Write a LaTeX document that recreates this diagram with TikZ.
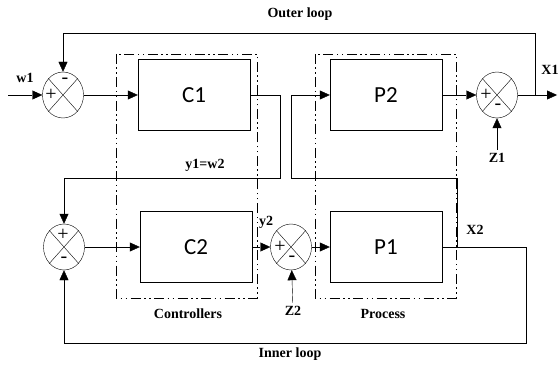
\documentclass[tikz,border=0pt]{standalone}
\usepackage{fontspec}
\setmainfont{Liberation Serif}
\newfontfamily\boxfont{Carlito}
\usetikzlibrary{arrows.meta,calc,shapes.geometric}
\tikzset{>={Triangle[length=10pt,width=9pt]},line width=1.6pt,
  every node/.style={font=\bfseries\fontsize{14}{15}\selectfont},
  block/.style={draw,minimum width=112pt,minimum height=71pt,
    font=\boxfont\fontsize{23}{24}\selectfont},
  sumnode/.style={draw,ellipse,minimum width=41pt,minimum height=46pt,inner sep=0pt,
    path picture={\draw (path picture bounding box.north west)--(path picture bounding box.south east)
      (path picture bounding box.north east)--(path picture bounding box.south west);}},
  group/.style={draw,line width=.9pt,dash pattern=on 10pt off 3.5pt on 1.5pt off 3.5pt on 1.5pt off 3.5pt},
  sign/.style={font=\fontsize{20}{20}\selectfont,inner sep=0pt}}

\begin{document}
\begin{tikzpicture}[x=1pt,y=-1pt]
\useasboundingbox (0,0) rectangle (559,366);
% groups
\draw[group] (116,54) rectangle (257,298);
\draw[group] (315,54) rectangle (456,298);
\node (ctrl) at (188,314) {Controllers};
\node (proc) at (383,314) {Process};
% upper row
\node[sumnode] (s1) at (63,95) {};
\node[block] (c1) at (194,95) {C1};
\node[block] (p2) at (386,95) {P2};
\node[sumnode] (s3) at (497,95) {};
% lower row
\node[sumnode] (s2) at (64,247) {};
\node[block] (c2) at (196,247) {C2};
\node[sumnode] (s4) at (291,247) {};
\node[block] (p1) at (386,247) {P1};
% signs
\node[sign] at ($(s1)+(-12,0)$) {+};\node[sign] at ($(s1)+(2,-14)$) {-};
\node[sign] at ($(s2)+(-1,-12)$) {+};\node[sign] at ($(s2)+(0,13)$) {-};
\node[sign] at ($(s3)+(-11,0)$) {+};\node[sign] at ($(s3)+(1,12)$) {-};
\node[sign] at ($(s4)+(-11,0)$) {+};\node[sign] at ($(s4)+(1,12)$) {-};
% inputs and outputs
\coordinate (w1in) at (8,95);
\coordinate (x1out) at (557,95);
\coordinate (ob) at (535,95);
\coordinate (ol) at (63,33);
\coordinate (j1) at (280,178);
\coordinate (j2) at (291,178);
\coordinate (x2b) at (457,247);
\coordinate (il) at (526,343);
\node (z1) at (497,158) {Z1};
\node (z2) at (293,311) {Z2};
% connectors
\draw[->] (w1in) -- (s1);
\draw[->] (s1) -- (c1);
\draw[->] (c1) -| (j1) -| (s2);
\draw[->] (s2) -- (c2);
\draw[->] (c2) -- (s4);
\draw[->] (s4) -- (p1);
\draw[->] (p1) -| (il) -| (s2);
\draw[->] (x2b) |- (j2) |- (p2);
\draw[->] (p2) -- (s3);
\draw[->] (s3) -- (x1out);
\draw[->] (ob) |- (ol) -- (s1);
\draw[->] (z1) -- (s3);
\draw[->] (z2) -- (s4);
% labels
\node at (25,78) {w1};
\node at (550,70) {X1};
\node at (475,230) {X2};
\node at (266,222) {y2};
\node at (205,165) {y1=w2};
\node at (300,14) {Outer loop};
\node at (290,354) {Inner loop};
\end{tikzpicture}
\end{document}
